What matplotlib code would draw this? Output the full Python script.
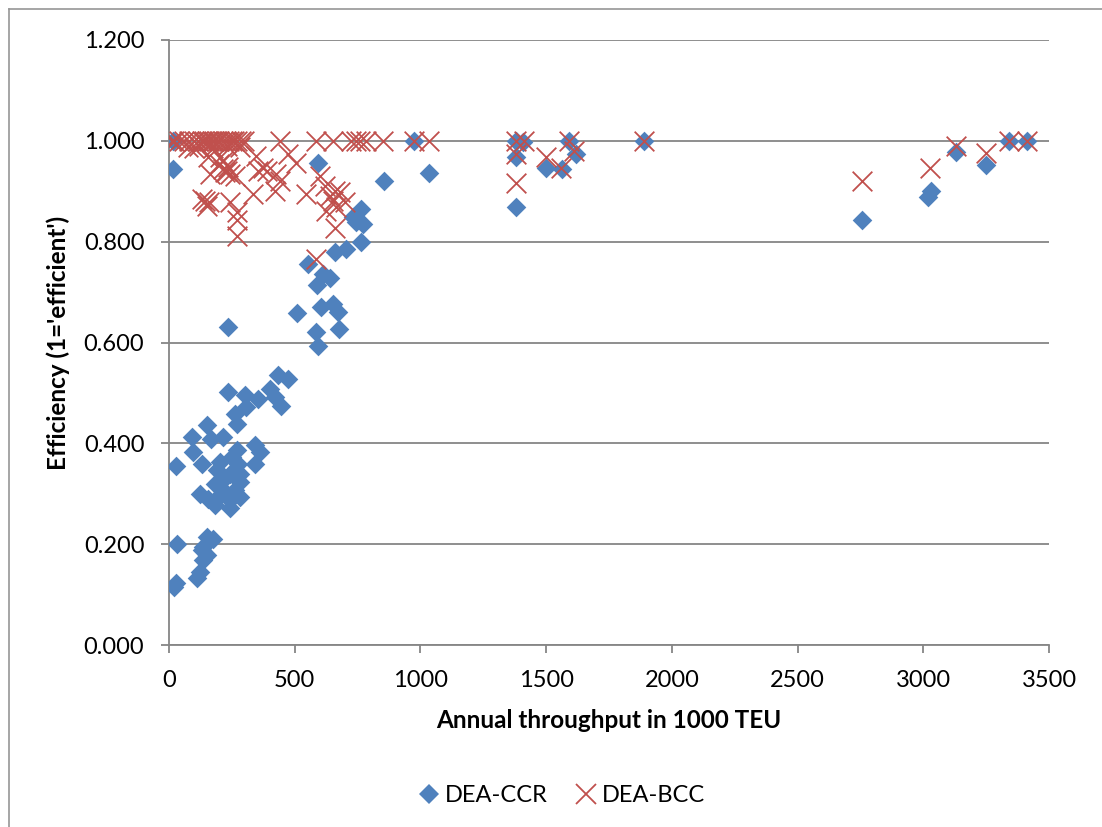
import matplotlib
matplotlib.use("Agg")
import matplotlib.pyplot as plt
from matplotlib.lines import Line2D

plt.rcParams['font.family'] = ['Lato', 'DejaVu Sans']

# DEA-CCR (x = throughput in 1000 TEU, y = efficiency)
ccr_x = [17, 17, 28, 30, 20, 28, 93, 97, 110, 123, 136, 130, 150, 150, 176, 136,
         123, 130, 150, 156, 169, 183, 183, 189, 196, 202, 216, 216, 216, 235, 235,
         242, 242, 242, 249, 262, 262, 269, 269, 275, 282, 282, 282, 302, 308, 341,
         341, 354, 361, 401, 421, 434, 447, 473, 511, 553, 586, 592, 592, 590, 606,
         612, 640, 652, 659, 672, 676, 705, 731, 745, 765, 765, 771, 857, 976, 1036,
         1379, 1406, 1379, 1379, 1499, 1565, 1591, 1618, 1889, 2758, 3020, 3030,
         3130, 3250, 3340, 3413]
ccr_y = [1.000, 0.944, 0.356, 0.201, 0.115, 0.123, 0.412, 0.383, 0.132, 0.145, 0.168,
         0.188, 0.178, 0.214, 0.211, 0.195, 0.300, 0.360, 0.436, 0.290, 0.409, 0.277,
         0.320, 0.347, 0.294, 0.363, 0.412, 0.327, 0.307, 0.630, 0.502, 0.340, 0.287,
         0.271, 0.373, 0.459, 0.307, 0.439, 0.386, 0.360, 0.340, 0.323, 0.294, 0.495,
         0.472, 0.396, 0.360, 0.488, 0.383, 0.508, 0.492, 0.535, 0.475, 0.528, 0.659,
         0.756, 0.620, 0.594, 0.957, 0.715, 0.670, 0.735, 0.728, 0.677, 0.779, 0.660,
         0.627, 0.786, 0.848, 0.840, 0.865, 0.799, 0.835, 0.921, 1.000, 0.937, 1.000,
         0.997, 0.967, 0.869, 0.947, 0.944, 1.000, 0.974, 1.000, 0.843, 0.888, 0.900,
         0.978, 0.952, 1.000, 1.000]

# DEA-BCC
bcc_x = [10, 20, 40, 60, 80, 100, 115, 130, 140, 150, 160, 170, 180, 190, 200, 215,
         225, 240, 250, 260, 270, 285, 300, 440, 586, 652, 725, 745, 758, 784, 850,
         976, 1036, 1379, 1412, 1591, 1889, 3340, 3413,
         77, 120, 156, 202, 163, 229, 242, 262, 282, 348, 374, 354, 388, 427, 473,
         507, 335, 421, 440, 546, 599, 619, 639, 659, 679, 665, 659, 130, 143, 150,
         160, 242, 269, 269, 269, 586, 200, 215, 215, 222, 235, 100, 175, 230, 652,
         699, 626,
         1379, 1379, 1499, 1558, 1611, 2758, 3025, 3130, 3250]
bcc_y = [1.0] * 39 + [
         0.987, 0.990, 0.967, 0.967, 0.934, 0.941, 0.934, 0.931, 0.987, 0.970, 0.947,
         0.941, 0.941, 0.934, 0.974, 0.957, 0.894, 0.901, 0.921, 0.894, 0.931, 0.911,
         0.891, 0.901, 0.898, 0.868, 0.828, 0.885, 0.881, 0.870, 0.878, 0.878, 0.858,
         0.842, 0.812, 0.766, 0.955, 0.960, 0.945, 0.938, 0.948, 0.985, 0.985, 0.990,
         0.881, 0.878, 0.861,
         0.974, 0.917, 0.967, 0.947, 0.980, 0.921, 0.946, 0.990, 0.976]

x_ticks = [0, 500, 1000, 1500, 2000, 2500, 3000, 3500]
y_ticks = [0.0, 0.2, 0.4, 0.6, 0.8, 1.0, 1.2]

blue = '#4F81BD'
red = '#C0504D'
grid_c = '#868686'

W, H = 1102, 827
fig = plt.figure(figsize=(W / 100, H / 100), dpi=100)
ax = fig.add_axes([169 / W, 1 - 645 / H, (1049 - 169) / W, (645 - 40) / H])

ax.scatter(ccr_x, ccr_y, marker='D', s=100, color=blue, linewidths=0, zorder=3)
ax.scatter(bcc_x, bcc_y, marker='x', s=200, color=red, linewidths=1.3, zorder=4)

ax.set_xlim(0, 3500)
ax.set_ylim(0, 1.2)
ax.set_xticks(x_ticks)
ax.set_yticks(y_ticks)
ax.set_xticklabels([str(t) for t in x_ticks])
ax.set_yticklabels([f"{t:.3f}" for t in y_ticks])
ax.tick_params(axis='both', labelsize=17, color=grid_c, length=5.8, width=1.3)
ax.tick_params(axis='x', pad=12)
ax.tick_params(axis='y', pad=12)

ax.yaxis.grid(True, color=grid_c, linewidth=1.3)
ax.set_axisbelow(True)
for s in ['top', 'right']:
    ax.spines[s].set_visible(False)
for s in ['left', 'bottom']:
    ax.spines[s].set_color(grid_c)
    ax.spines[s].set_linewidth(1.3)

ax.set_xlabel('Annual throughput in 1000 TEU', fontsize=17.5, fontweight='bold', labelpad=13)
ax.set_ylabel("Efficiency (1='efficient')", fontsize=17.5, fontweight='bold', labelpad=10)

handles = [Line2D([], [], marker='D', color=blue, linestyle='none', markersize=10, markeredgewidth=0),
           Line2D([], [], marker='x', color=red, linestyle='none', markersize=14, markeredgewidth=1.3)]
fig.legend(handles, ['DEA-CCR', 'DEA-BCC'], loc='center', bbox_to_anchor=(560 / W, 1 - 796 / H),
           ncol=2, frameon=False, fontsize=17, handletextpad=0.1, columnspacing=1.0, handlelength=1.2)

# chart border (top and left edges)
fig.add_artist(Line2D([9 / W, 9 / W], [0, 1 - 9 / H], transform=fig.transFigure,
                      color='#969696', linewidth=1.2))
fig.add_artist(Line2D([9 / W, 1], [1 - 9 / H, 1 - 9 / H], transform=fig.transFigure,
                      color='#969696', linewidth=1.2))

fig.savefig('out.png', dpi=100)
